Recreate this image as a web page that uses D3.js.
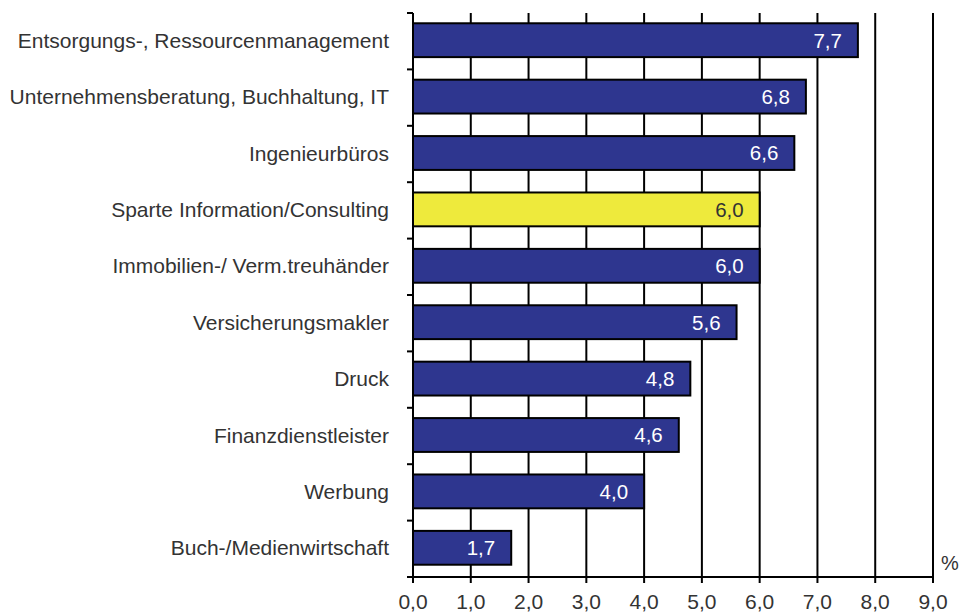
<!DOCTYPE html>
<html>
<head>
<meta charset="utf-8">
<script src="https://cdn.jsdelivr.net/npm/d3@7"></script>
<style>
  body { margin: 0; background: #fff; }
  text { font-family: "Liberation Sans", Arial, sans-serif; }
</style>
</head>
<body>
<svg width="960" height="614"></svg>
<script>
// Daten
const categories = [
  "Entsorgungs-, Ressourcenmanagement",
  "Unternehmensberatung, Buchhaltung, IT",
  "Ingenieurbüros",
  "Sparte Information/Consulting",
  "Immobilien-/ Verm.treuhänder",
  "Versicherungsmakler",
  "Druck",
  "Finanzdienstleister",
  "Werbung",
  "Buch-/Medienwirtschaft"
];
const values = [7.7, 6.8, 6.6, 6.0, 6.0, 5.6, 4.8, 4.6, 4.0, 1.7];
const highlight = "Sparte Information/Consulting";
const xTicks = [0, 1, 2, 3, 4, 5, 6, 7, 8, 9];

const svg = d3.select("svg");
const mLeft = 413, mRight = 933, mTop = 13, mBottom = 577;

const x = d3.scaleLinear().domain([0, 9]).range([mLeft, mRight]);
const y = d3.scaleBand().domain(categories).range([mTop, mBottom]).paddingInner(0.4).paddingOuter(0.2);
const yb = d3.scaleBand().domain(categories).range([mTop, mBottom]);
const fmt = d => d.toFixed(1).replace(".", ",");

// Gitternetz (vertikal)
svg.append("g").selectAll("line")
  .data(xTicks.slice(1))
  .enter().append("line")
  .attr("x1", d => x(d)).attr("x2", d => x(d))
  .attr("y1", mTop).attr("y2", mBottom + 6)
  .attr("stroke", "#000").attr("stroke-width", 2);

// Balken
const bars = svg.append("g").selectAll("g")
  .data(categories)
  .enter().append("g");

bars.append("rect")
  .attr("x", x(0))
  .attr("y", d => y(d) - 1)
  .attr("width", (d, i) => x(values[i]) - x(0))
  .attr("height", y.bandwidth())
  .attr("fill", d => d === highlight ? "#EEEA3C" : "#2E368F")
  .attr("stroke", "#000").attr("stroke-width", 2);

bars.append("text")
  .attr("x", (d, i) => x(values[i]) - 16)
  .attr("y", d => y(d) - 1 + y.bandwidth() / 2)
  .attr("dy", "0.36em")
  .attr("text-anchor", "end")
  .attr("font-size", 20.5)
  .attr("fill", d => d === highlight ? "#333" : "#fff")
  .text((d, i) => fmt(values[i]));

// Kategorien
svg.append("g").selectAll("text")
  .data(categories)
  .enter().append("text")
  .attr("x", 389)
  .attr("y", d => y(d) - 1 + y.bandwidth() / 2)
  .attr("dy", "0.36em")
  .attr("text-anchor", "end")
  .attr("font-size", 21)
  .attr("fill", "#333")
  .text(d => d);

// y-Achse
svg.append("line")
  .attr("x1", mLeft).attr("x2", mLeft)
  .attr("y1", mTop).attr("y2", mBottom + 6)
  .attr("stroke", "#000").attr("stroke-width", 2);
svg.append("g").selectAll("line")
  .data(categories.concat(["end"]))
  .enter().append("line")
  .attr("x1", mLeft - 6).attr("x2", mLeft)
  .attr("y1", (d, i) => mTop + i * yb.step())
  .attr("y2", (d, i) => mTop + i * yb.step())
  .attr("stroke", "#000").attr("stroke-width", 2);

// x-Achse
svg.append("line")
  .attr("x1", mLeft).attr("x2", mRight)
  .attr("y1", mBottom).attr("y2", mBottom)
  .attr("stroke", "#000").attr("stroke-width", 2);
svg.append("g").selectAll("text")
  .data(xTicks)
  .enter().append("text")
  .attr("x", d => x(d))
  .attr("y", 609)
  .attr("text-anchor", "middle")
  .attr("font-size", 21)
  .attr("fill", "#333")
  .text(fmt);

svg.append("text")
  .attr("x", 941).attr("y", 570)
  .attr("font-size", 20)
  .attr("fill", "#333")
  .text("%");
</script>
</body>
</html>
